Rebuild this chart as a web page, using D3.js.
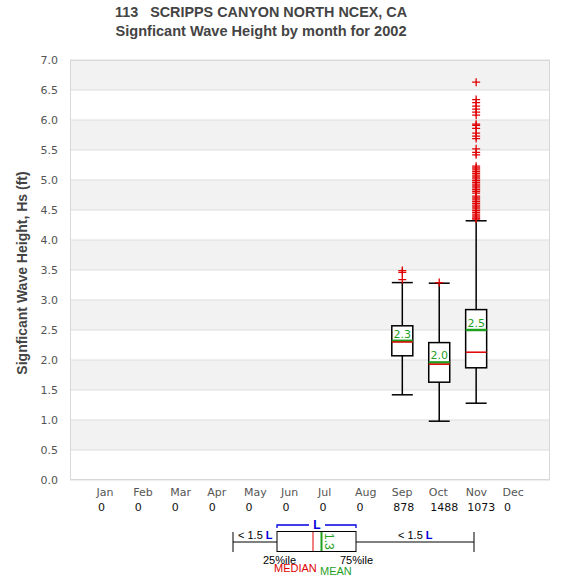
<!DOCTYPE html>
<html><head><meta charset="utf-8">
<script src="https://cdn.jsdelivr.net/npm/d3@7"></script>
<style>body{margin:0;background:#fff}</style>
</head><body>
<svg id="c" width="575" height="580"></svg>
<script>
const months = ["Jan","Feb","Mar","Apr","May","Jun","Jul","Aug","Sep","Oct","Nov","Dec"];
const counts = [0,0,0,0,0,0,0,0,878,1488,1073,0];
const yTicks = [0,0.5,1,1.5,2,2.5,3,3.5,4,4.5,5,5.5,6,6.5,7];
const boxMonths = ["Sep","Oct","Nov"];
const whiskLow = [1.42,0.98,1.28];
const q1 = [2.07,1.63,1.87];
const medians = [2.30,1.93,2.13];
const means = [2.32,1.96,2.50];
const q3 = [2.57,2.29,2.84];
const whiskHigh = [3.29,3.28,4.32];
const meanLabels = ["2.3","2.0","2.5"];
const outSep = [3.49,3.46,3.34];
const outOct = [3.29];
const outNov = [6.63,6.34,6.29,6.23,6.18,6.13,6.08,5.93,5.91,5.86,5.78,5.73,5.69,5.52,5.46,5.42,
  5.23,5.20,5.17,5.14,5.11,5.08,5.05,5.02,4.99,4.96,4.93,4.90,4.87,4.84,4.81,4.78,
  4.73,4.70,4.67,4.64,4.61,4.58,4.55,4.52,4.49,4.46,4.43,4.40,4.37,4.35];
const outliers = [outSep,outOct,outNov];

const svg = d3.select("#c");
const L=70,R=550,T=60,B=480;
const x = d3.scalePoint().domain(months).range([L,R]).padding(1);
const y = d3.scaleLinear().domain([0,7]).range([B,T]);
const GREEN="#1fa01f", RED="#e00000";

// bands
const bands = yTicks.filter((d,i)=>i%2===1);
svg.append("g").selectAll("rect").data(bands).join("rect")
  .attr("x",L).attr("width",R-L).attr("y",d=>y(d+0.5)).attr("height",d=>y(d)-y(d+0.5))
  .attr("fill","#f2f2f2");
svg.append("g").selectAll("line").data(yTicks).join("line")
  .attr("x1",L).attr("x2",R).attr("y1",d=>y(d)).attr("y2",d=>y(d))
  .attr("stroke","#dddddd").attr("stroke-width",1);
svg.append("rect").attr("x",L+0.5).attr("y",T+0.5).attr("width",R-L-1).attr("height",B-T-1)
  .attr("fill","none").attr("stroke","#d8d8d8");

// y axis
const ya = svg.append("g").attr("transform",`translate(${L-9},0)`)
  .call(d3.axisLeft(y).tickValues(yTicks).tickFormat(d3.format(".1f")).tickSize(0));
ya.select(".domain").remove();
ya.selectAll("text").attr("font-family","DejaVu Sans").attr("font-size",11).attr("fill","#555");

// x axis labels
const xa = svg.append("g").attr("transform",`translate(0,${B})`)
  .call(d3.axisBottom(x).tickSize(0));
xa.select(".domain").remove();
xa.selectAll("text").attr("font-family","DejaVu Sans").attr("font-size",11).attr("fill","#555")
  .attr("text-anchor","start").attr("dx",-11).attr("y",0).attr("dy",0).attr("transform","translate(0,16)");
svg.append("g").selectAll("text").data(months).join("text")
  .attr("x",d=>x(d)-9).attr("y",B+31).text((d,i)=>counts[i])
  .attr("font-family","DejaVu Sans").attr("font-size",11).attr("fill","#111");

// titles
svg.append("text").attr("x",261).attr("y",17).attr("text-anchor","middle")
  .attr("font-family","Liberation Sans").attr("font-weight","bold").attr("font-size",15).attr("fill","#444")
  .attr("textLength",292).attr("lengthAdjust","spacingAndGlyphs")
  .attr("xml:space","preserve").text("113   SCRIPPS CANYON NORTH NCEX, CA");
svg.append("text").attr("x",261).attr("y",36).attr("text-anchor","middle")
  .attr("font-family","Liberation Sans").attr("font-weight","bold").attr("font-size",15).attr("fill","#444")
  .attr("textLength",291).attr("lengthAdjust","spacingAndGlyphs")
  .text("Signficant Wave Height by month for 2002");
svg.append("text").attr("transform",`translate(27,273) rotate(-90)`).attr("text-anchor","middle")
  .attr("font-family","Liberation Sans").attr("font-weight","bold").attr("font-size",14).attr("fill","#444")
  .text("Signficant Wave Height, Hs (ft)");

// boxes
const bw = 21;
boxMonths.forEach((m,i)=>{
  const cx = x(m);
  const g = svg.append("g");
  g.append("line").attr("x1",cx).attr("x2",cx).attr("y1",y(whiskLow[i])).attr("y2",y(q1[i])).attr("stroke","#000").attr("stroke-width",1.5);
  g.append("line").attr("x1",cx).attr("x2",cx).attr("y1",y(q3[i])).attr("y2",y(whiskHigh[i])).attr("stroke","#000").attr("stroke-width",1.5);
  [whiskLow[i],whiskHigh[i]].forEach(v=>g.append("line").attr("x1",cx-bw/2).attr("x2",cx+bw/2)
    .attr("y1",y(v)).attr("y2",y(v)).attr("stroke","#000").attr("stroke-width",1.5));
  g.append("rect").attr("x",cx-bw/2).attr("width",bw).attr("y",y(q3[i])).attr("height",y(q1[i])-y(q3[i]))
    .attr("fill","#fff").attr("stroke","#000").attr("stroke-width",1.5);
  g.append("line").attr("x1",cx-bw/2).attr("x2",cx+bw/2).attr("y1",y(means[i])).attr("y2",y(means[i]))
    .attr("stroke",GREEN).attr("stroke-width",2.5);
  g.append("line").attr("x1",cx-bw/2).attr("x2",cx+bw/2).attr("y1",y(medians[i])).attr("y2",y(medians[i]))
    .attr("stroke",RED).attr("stroke-width",1.5);
  g.append("text").attr("x",cx).attr("y",y(means[i])-3).attr("text-anchor","middle")
    .attr("font-family","DejaVu Sans").attr("font-size",11).attr("fill",GREEN).text(meanLabels[i]);
  g.selectAll("path.o").data(outliers[i]).join("path")
    .attr("d",d=>`M${cx-4},${y(d)}H${cx+4}M${cx},${y(d)-4}V${y(d)+4}`)
    .attr("stroke",RED).attr("stroke-width",1.3).attr("fill","none");
});

// legend
const lg = svg.append("g");
const ly=542, lx0=233, lb0=277, lb1=356, lx1=474;
lg.append("line").attr("x1",lx0).attr("x2",lx1).attr("y1",ly).attr("y2",ly).attr("stroke","#000");
[lx0,lx1].forEach(v=>lg.append("line").attr("x1",v).attr("x2",v).attr("y1",532).attr("y2",552).attr("stroke","#000"));
lg.append("rect").attr("x",lb0).attr("y",531.5).attr("width",lb1-lb0).attr("height",20).attr("fill","#fff").attr("stroke","#000");
lg.append("line").attr("x1",313).attr("x2",313).attr("y1",532).attr("y2",551).attr("stroke",RED);
lg.append("line").attr("x1",321.5).attr("x2",321.5).attr("y1",532).attr("y2",551).attr("stroke",GREEN).attr("stroke-width",2);
lg.append("text").attr("transform","translate(325,533) rotate(90)").attr("font-family","Liberation Sans").attr("font-size",12).attr("fill",GREEN).text("1.3");
lg.append("path").attr("d",`M${lb0},528V525H309M325,525H${lb1}V528`).attr("fill","none").attr("stroke","#0000dd").attr("stroke-width",1.3);
lg.append("text").attr("x",317).attr("y",529).attr("text-anchor","middle").attr("font-family","Liberation Sans").attr("font-weight","bold").attr("font-size",12).attr("fill","#0000dd").text("L");
function lt(xp,yp,parts){
  const t=lg.append("text").attr("x",xp).attr("y",yp).attr("font-family","Liberation Sans").attr("font-size",11);
  parts.forEach(p=>t.append("tspan").attr("fill",p[1]).attr("font-weight",p[2]||"normal").text(p[0]));
}
lt(238,539,[["< 1.5 ","#000"],["L","#0000dd","bold"]]);
lt(398,539,[["< 1.5 ","#000"],["L","#0000dd","bold"]]);
lt(263,564,[["25%ile","#000"]]);
lt(340,564,[["75%ile","#000"]]);
lt(274,572,[["MEDIAN",RED]]);
lt(320,575,[["MEAN",GREEN]]);
</script>
</body></html>
